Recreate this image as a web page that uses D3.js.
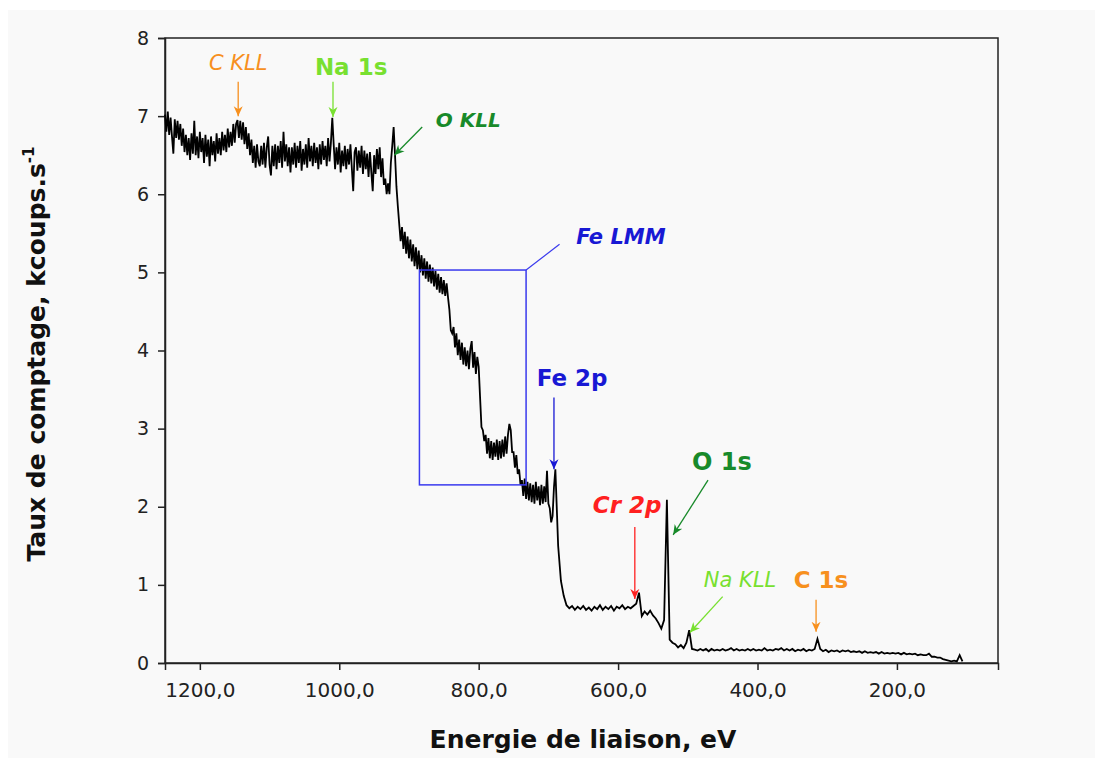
<!DOCTYPE html>
<html>
<head>
<meta charset="utf-8">
<script src="https://cdn.jsdelivr.net/npm/d3@7"></script>
<style>
  html, body { margin: 0; padding: 0; background: #ffffff; }
  svg { display: block; }
  text { font-family: "DejaVu Sans", Verdana, sans-serif; }
</style>
</head>
<body>
<svg id="chart" width="1095" height="758"></svg>
<script>
// XPS survey spectrum.
// High-energy part: one count rate every 2 eV from 1250 eV down to 692 eV.
const highStart = 1250;
const highStep = 2;
const countsHigh = [
  7.02, 6.80, 7.06, 6.76, 6.98, 6.74, 6.52, 6.96, 6.72, 6.94,   // 1250
  6.70, 6.90, 6.62, 6.84, 6.54, 6.76, 6.50, 6.72, 6.44, 6.78,   // 1230
  6.52, 6.94, 6.50, 6.74, 6.46, 6.80, 6.54, 6.72, 6.40, 6.76,   // 1210
  6.48, 6.70, 6.36, 6.74, 6.50, 6.68, 6.42, 6.78, 6.52, 6.72,   // 1190
  6.50, 6.80, 6.56, 6.76, 6.54, 6.84, 6.60, 6.80, 6.62, 6.90,   // 1170
  6.66, 6.90, 6.95, 6.72, 6.94, 6.70, 6.92, 6.64, 6.86, 6.58,   // 1150
  6.78, 6.50, 6.70, 6.40, 6.62, 6.34, 6.64, 6.42, 6.36, 6.62,   // 1130
  6.38, 6.66, 6.34, 6.60, 6.74, 6.38, 6.24, 6.62, 6.36, 6.64,   // 1110
  6.32, 6.62, 6.40, 6.68, 6.34, 6.80, 6.42, 6.64, 6.36, 6.60,   // 1090
  6.28, 6.60, 6.38, 6.66, 6.34, 6.62, 6.40, 6.68, 6.30, 6.58,   // 1070
  6.38, 6.64, 6.34, 6.72, 6.42, 6.62, 6.36, 6.66, 6.40, 6.60,   // 1050
  6.32, 6.64, 6.38, 6.68, 6.44, 6.62, 6.36, 6.72, 6.42, 6.66,   // 1030
  6.98, 6.64, 6.32, 6.60, 6.38, 6.66, 6.28, 6.56, 6.36, 6.62,   // 1010
  6.32, 6.58, 6.38, 6.64, 6.34, 6.04, 6.54, 6.60, 6.30, 6.56,   // 990
  6.34, 6.62, 6.26, 6.56, 6.32, 6.52, 6.22, 6.54, 6.28, 6.04,   // 970
  6.50, 6.26, 6.58, 6.32, 6.60, 6.22, 6.46, 6.12, 6.20, 6.00,   // 950
  6.14, 6.00, 6.40, 6.62, 6.86, 6.50, 6.10, 5.85, 5.62, 5.40,   // 930
  5.58, 5.30, 5.52, 5.24, 5.46, 5.18, 5.42, 5.14, 5.36, 5.08,   // 910
  5.32, 5.04, 5.28, 5.00, 5.22, 4.96, 5.18, 4.92, 5.14, 4.88,   // 890
  5.10, 4.86, 5.06, 4.82, 5.02, 4.78, 4.98, 4.74, 4.94, 4.72,   // 870
  4.90, 4.70, 4.86, 4.68, 4.52, 4.26, 4.22, 4.30, 4.04, 4.22,   // 850
  3.94, 4.14, 3.88, 4.10, 3.82, 4.04, 3.80, 4.00, 3.76, 4.02,   // 830
  4.12, 3.78, 3.98, 3.70, 3.92, 3.79, 3.40, 3.02, 2.98, 2.84,   // 810
  2.92, 2.68, 2.88, 2.62, 2.84, 2.60, 2.82, 2.64, 2.86, 2.60,   // 790
  2.84, 2.62, 2.86, 2.64, 2.90, 2.68, 2.92, 3.06, 2.98, 2.70,   // 770
  2.70, 2.50, 2.66, 2.42, 2.48, 2.28, 2.34, 2.14, 2.36, 2.10,   // 750
  2.32, 2.08, 2.30, 2.06, 2.28, 2.04, 2.32, 2.08, 2.26, 2.02,   // 730
  2.28, 2.04, 2.26, 2.06, 2.46, 2.04, 1.98, 1.80, 1.88, 2.25    // 710
];

// Low-energy part: one count rate every 4 eV from 690 eV down to 106 eV.
const lowStart = 690;
const lowStep = 4;
const countsLow = [
  2.48, 1.50, 1.05, 0.86, 0.74, 0.70, 0.73, 0.68, 0.72, 0.69,   // 690
  0.73, 0.68, 0.71, 0.67, 0.72, 0.69, 0.74, 0.68, 0.72, 0.69,   // 650
  0.73, 0.67, 0.72, 0.70, 0.74, 0.69, 0.72, 0.70, 0.73, 0.76,   // 610
  0.90, 0.60, 0.66, 0.62, 0.67, 0.61, 0.57, 0.51, 0.44, 0.55,   // 570
  2.09, 0.30, 0.26, 0.24, 0.20, 0.23, 0.19, 0.26, 0.42, 0.18,   // 530
  0.17, 0.16, 0.18, 0.16, 0.18, 0.15, 0.18, 0.16, 0.17, 0.16,   // 490
  0.18, 0.16, 0.17, 0.19, 0.16, 0.18, 0.16, 0.17, 0.16, 0.18,   // 450
  0.16, 0.18, 0.16, 0.17, 0.16, 0.19, 0.16, 0.17, 0.16, 0.18,   // 410
  0.17, 0.19, 0.16, 0.18, 0.16, 0.18, 0.15, 0.17, 0.16, 0.18,   // 370
  0.15, 0.17, 0.16, 0.18, 0.31, 0.18, 0.15, 0.17, 0.14, 0.16,   // 330
  0.15, 0.16, 0.14, 0.16, 0.15, 0.16, 0.14, 0.15, 0.14, 0.15,   // 290
  0.13, 0.15, 0.13, 0.14, 0.13, 0.14, 0.12, 0.14, 0.12, 0.13,   // 250
  0.12, 0.13, 0.12, 0.13, 0.11, 0.13, 0.11, 0.12, 0.11, 0.12,   // 210
  0.10, 0.11, 0.10, 0.10, 0.12, 0.08, 0.08, 0.07, 0.07, 0.05,   // 170
  0.04, 0.03, 0.02, 0.03, 0.02, 0.10, 0.02                      // 130
];

// axis ticks
const xTicks = [1200, 1000, 800, 600, 400, 200];
const yTicks = [0, 1, 2, 3, 4, 5, 6, 7, 8];

// Fe LMM Auger region (eV range and count range)
const lmmEnergy = [885, 732];
const lmmCounts = [2.28, 5.03];

// peak labels
const peakNames = ["C KLL", "Na 1s", "O KLL", "Fe LMM", "Fe 2p", "Cr 2p", "O 1s", "Na KLL", "C 1s"];

const W = 1095, H = 758;
const svg = d3.select("#chart");

svg.append("rect")
  .attr("x", 8).attr("y", 10)
  .attr("width", W - 8).attr("height", H - 10)
  .attr("fill", "#f9f9f9");

const plot = { left: 165, right: 998, top: 38, bottom: 663 };

const x = d3.scaleLinear().domain([1250, 55]).range([plot.left, plot.right]);
const y = d3.scaleLinear().domain([0, 8]).range([plot.bottom, plot.top]);

const frLocale = d3.formatLocale({ decimal: ",", thousands: "", grouping: [3], currency: ["", " €"] });
const fmtX = frLocale.format(".1f");

// frame
svg.append("rect")
  .attr("x", plot.left).attr("y", plot.top)
  .attr("width", plot.right - plot.left).attr("height", plot.bottom - plot.top)
  .attr("fill", "none").attr("stroke", "#222").attr("stroke-width", 1.5);

// axes
const gx = svg.append("g")
  .attr("transform", `translate(0,${plot.bottom})`)
  .call(d3.axisBottom(x).tickValues(xTicks).tickSize(7).tickPadding(13).tickFormat(fmtX));
const gy = svg.append("g")
  .attr("transform", `translate(${plot.left},0)`)
  .call(d3.axisLeft(y).tickValues(yTicks).tickSize(7).tickPadding(9).tickFormat(d3.format("d")));

[gx, gy].forEach(g => {
  g.select(".domain").attr("stroke", "#222").attr("stroke-width", 1.5);
  g.selectAll(".tick line").attr("stroke", "#222").attr("stroke-width", 1.5);
  g.selectAll(".tick text")
    .attr("fill", "#222")
    .style("font-family", '"DejaVu Sans", Verdana, sans-serif');
});
gx.selectAll(".tick text").style("font-size", "20px");
gy.selectAll(".tick text").style("font-size", "19px");

// axis titles
svg.append("text")
  .attr("x", 583).attr("y", 748)
  .attr("text-anchor", "middle")
  .style("font-size", "25px").style("font-weight", "bold")
  .attr("fill", "#111")
  .text("Energie de liaison, eV");

const yTitle = svg.append("text")
  .attr("transform", "translate(45,354) rotate(-90)")
  .attr("text-anchor", "middle")
  .style("font-size", "25px").style("font-weight", "bold")
  .attr("fill", "#111");
yTitle.append("tspan").text("Taux de comptage, kcoups.s");
yTitle.append("tspan").attr("dy", "-0.75em").style("font-size", "15px").text("-1");

// spectrum
const spectrum = countsHigh.map((c, i) => ({ e: highStart - i * highStep, c }))
  .concat(countsLow.map((c, i) => ({ e: lowStart - i * lowStep, c })));
svg.append("path")
  .datum(spectrum)
  .attr("fill", "none")
  .attr("stroke", "#000")
  .attr("stroke-width", 1.8)
  .attr("stroke-linejoin", "miter")
  .attr("d", d3.line().x(d => x(d.e)).y(d => y(d.c)));

// Fe LMM region box and its leader
const blue = "#3a3aee";
svg.append("rect")
  .attr("x", x(lmmEnergy[0])).attr("y", y(lmmCounts[1]))
  .attr("width", x(lmmEnergy[1]) - x(lmmEnergy[0]))
  .attr("height", y(lmmCounts[0]) - y(lmmCounts[1]))
  .attr("fill", "none").attr("stroke", blue).attr("stroke-width", 1.5);
svg.append("line")
  .attr("x1", x(lmmEnergy[1])).attr("y1", y(lmmCounts[1]))
  .attr("x2", x(684)).attr("y2", y(5.36))
  .attr("stroke", blue).attr("stroke-width", 1.2);

// arrowheads
const defs = svg.append("defs");
function marker(id, color) {
  defs.append("marker")
    .attr("id", id)
    .attr("markerUnits", "userSpaceOnUse")
    .attr("markerWidth", 11).attr("markerHeight", 10)
    .attr("refX", 10).attr("refY", 5)
    .attr("orient", "auto")
    .append("path")
    .attr("d", "M0,0.5 L10,5 L0,9.5 L3,5 Z")
    .attr("fill", color);
  return `url(#${id})`;
}

const orange = "#f7901e", lime = "#78e030", darkGreen = "#188a2a", labelBlue = "#1818d4", red = "#ff2020";

// label anchor and arrow in data units (eV, kcoups/s)
const notes = [
  { name: peakNames[0], e: 1145, v: 7.68, color: orange, size: 21, bold: false, italic: true,
    arrow: [1145, 7.44, 1145, 7.00] },
  { name: peakNames[1], e: 983, v: 7.63, color: lime, size: 23, bold: true, italic: false,
    arrow: [1009, 7.44, 1009, 6.99] },
  { name: peakNames[2], e: 815, v: 6.95, color: darkGreen, size: 20, bold: true, italic: true,
    arrow: [881, 6.86, 921, 6.50] },
  { name: peakNames[3], e: 596, v: 5.45, color: labelBlue, size: 21, bold: true, italic: true,
    arrow: null },
  { name: peakNames[4], e: 666, v: 3.65, color: labelBlue, size: 23, bold: true, italic: false,
    arrow: [692, 3.40, 692, 2.48] },
  { name: peakNames[5], e: 587, v: 2.02, color: red, size: 23, bold: true, italic: true,
    arrow: [576, 1.74, 576, 0.82] },
  { name: peakNames[6], e: 451, v: 2.57, color: darkGreen, size: 24, bold: true, italic: false,
    arrow: [471, 2.34, 521, 1.64] },
  { name: peakNames[7], e: 425, v: 1.06, color: lime, size: 21, bold: false, italic: true,
    arrow: [450, 0.85, 497, 0.39] },
  { name: peakNames[8], e: 309, v: 1.06, color: orange, size: 23, bold: true, italic: false,
    arrow: [316, 0.81, 316, 0.40] }
];

notes.forEach((n, i) => {
  svg.append("text")
    .attr("x", x(n.e)).attr("y", y(n.v))
    .attr("text-anchor", "middle")
    .attr("dominant-baseline", "central")
    .style("font-size", n.size + "px")
    .style("font-weight", n.bold ? "bold" : "normal")
    .style("font-style", n.italic ? "italic" : "normal")
    .attr("fill", n.color)
    .text(n.name);
  if (n.arrow) {
    const m = marker("head" + i, n.color);
    svg.append("line")
      .attr("x1", x(n.arrow[0])).attr("y1", y(n.arrow[1]))
      .attr("x2", x(n.arrow[2])).attr("y2", y(n.arrow[3]))
      .attr("stroke", n.color).attr("stroke-width", 1.3)
      .attr("marker-end", m);
  }
});
</script>
</body>
</html>
